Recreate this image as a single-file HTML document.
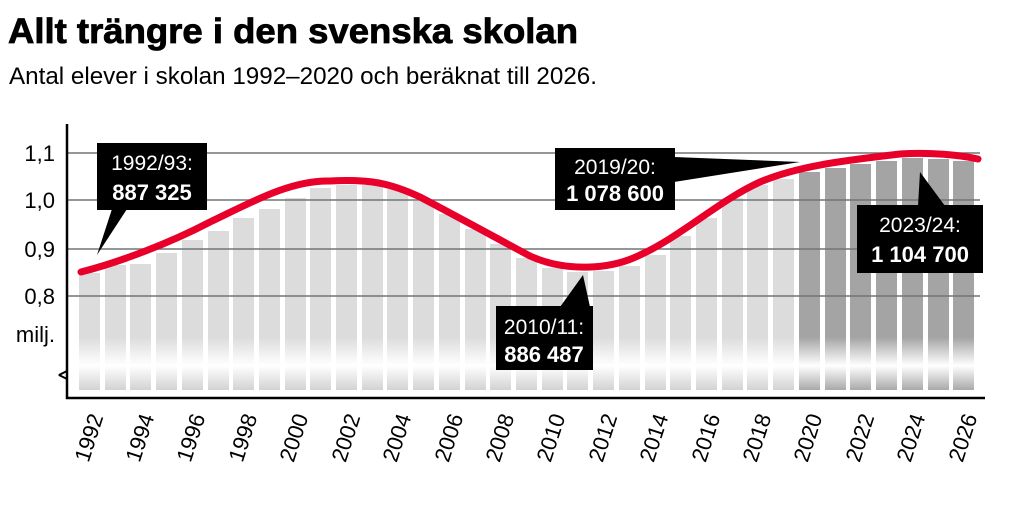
<!DOCTYPE html>
<html><head><meta charset="utf-8"><style>
body{margin:0;background:#fff;}
svg{display:block;}
.t{font-family:"Liberation Sans",sans-serif;}
</style></head><body>
<svg width="1021" height="515" viewBox="0 0 1021 515" xmlns="http://www.w3.org/2000/svg">
<defs>
<linearGradient id="gl" gradientUnits="userSpaceOnUse" x1="0" y1="0" x2="0" y2="515">
<stop offset="0" stop-color="#dcdcdc"/><stop offset="0.655" stop-color="#dcdcdc"/><stop offset="0.71" stop-color="#fff"/><stop offset="0.76" stop-color="#d0d0d0"/></linearGradient>
<linearGradient id="gd" gradientUnits="userSpaceOnUse" x1="0" y1="0" x2="0" y2="515">
<stop offset="0" stop-color="#a4a4a4"/><stop offset="0.655" stop-color="#a4a4a4"/><stop offset="0.71" stop-color="#fff"/><stop offset="0.76" stop-color="#a4a4a4"/></linearGradient>
</defs>
<text x="8" y="43" font-family="Liberation Sans,sans-serif" font-weight="bold" font-size="35" fill="#000" textLength="570" lengthAdjust="spacingAndGlyphs" stroke="#000" stroke-width="0.8">Allt trängre i den svenska skolan</text>
<text class="t" x="9" y="84" font-size="24" fill="#000" textLength="588" lengthAdjust="spacingAndGlyphs">Antal elever i skolan 1992–2020 och beräknat till 2026.</text>
<g>
<rect x="79" y="273" width="21" height="117" fill="url(#gl)"/>
<rect x="105" y="265" width="21" height="125" fill="url(#gl)"/>
<rect x="130" y="264" width="21" height="126" fill="url(#gl)"/>
<rect x="156" y="253" width="21" height="137" fill="url(#gl)"/>
<rect x="182" y="240" width="21" height="150" fill="url(#gl)"/>
<rect x="208" y="231" width="21" height="159" fill="url(#gl)"/>
<rect x="233" y="218" width="21" height="172" fill="url(#gl)"/>
<rect x="259" y="209" width="21" height="181" fill="url(#gl)"/>
<rect x="285" y="198" width="21" height="192" fill="url(#gl)"/>
<rect x="310" y="188" width="21" height="202" fill="url(#gl)"/>
<rect x="336" y="185" width="21" height="205" fill="url(#gl)"/>
<rect x="362" y="185" width="21" height="205" fill="url(#gl)"/>
<rect x="387" y="189" width="21" height="201" fill="url(#gl)"/>
<rect x="413" y="201" width="21" height="189" fill="url(#gl)"/>
<rect x="439" y="214" width="21" height="176" fill="url(#gl)"/>
<rect x="465" y="229" width="21" height="161" fill="url(#gl)"/>
<rect x="490" y="244" width="21" height="146" fill="url(#gl)"/>
<rect x="516" y="258" width="21" height="132" fill="url(#gl)"/>
<rect x="542" y="268" width="21" height="122" fill="url(#gl)"/>
<rect x="567" y="272" width="21" height="118" fill="url(#gl)"/>
<rect x="593" y="271" width="21" height="119" fill="url(#gl)"/>
<rect x="619" y="266" width="21" height="124" fill="url(#gl)"/>
<rect x="645" y="255" width="21" height="135" fill="url(#gl)"/>
<rect x="670" y="236" width="21" height="154" fill="url(#gl)"/>
<rect x="696" y="218" width="21" height="172" fill="url(#gl)"/>
<rect x="722" y="198" width="21" height="192" fill="url(#gl)"/>
<rect x="747" y="185" width="21" height="205" fill="url(#gl)"/>
<rect x="773" y="179" width="21" height="211" fill="url(#gl)"/>
<rect x="799" y="172" width="21" height="218" fill="url(#gd)"/>
<rect x="825" y="168" width="21" height="222" fill="url(#gd)"/>
<rect x="850" y="164" width="21" height="226" fill="url(#gd)"/>
<rect x="876" y="161" width="21" height="229" fill="url(#gd)"/>
<rect x="902" y="158" width="21" height="232" fill="url(#gd)"/>
<rect x="928" y="159" width="21" height="231" fill="url(#gd)"/>
<rect x="953" y="161" width="21" height="229" fill="url(#gd)"/>
</g>
<g stroke="#6e7676" stroke-width="1.5">
<line x1="67" y1="153" x2="980" y2="153"/><line x1="67" y1="200" x2="980" y2="200"/>
<line x1="67" y1="249" x2="980" y2="249"/><line x1="67" y1="296" x2="980" y2="296"/>
</g>
<path d="M67,124 V398 H985" fill="none" stroke="#000" stroke-width="2.5"/>
<path d="M67,371 l-8,4 l8,4" fill="none" stroke="#000" stroke-width="2" stroke-linejoin="bevel"/>
<g class="t" font-size="22" fill="#000" text-anchor="end">
<text x="55" y="161">1,1</text><text x="55" y="208">1,0</text><text x="55" y="257">0,9</text><text x="55" y="304">0,8</text><text x="55" y="342">milj.</text>
</g>
<path d="M81,272 C120,262 170,243 210,222 C250,203 290,180 330,181 C370,179 390,183 420,197 C460,218 500,240 530,256 C565,272 610,270 640,255 C680,237 720,200 760,182 C800,165 850,160 900,154 C930,152 960,155 978,159" fill="none" stroke="#e8002a" stroke-width="7" stroke-linecap="round"/>
<g fill="#000">
<rect x="97" y="143" width="110" height="67"/><path d="M112,209 L127,209 L97,255 Z"/>
<rect x="555" y="148" width="120" height="62"/><path d="M674,157 L800,162 L674,182 Z"/>
<rect x="496" y="306" width="97" height="64"/><path d="M560,307 L583,275 L590,307 Z"/>
<rect x="857" y="205" width="126" height="68"/><path d="M918,206 L920,172 L945,206 Z"/>
</g>
<g class="t" fill="#fff" font-size="21" text-anchor="middle">
<text x="152" y="170">1992/93:</text><text x="152" y="200" font-weight="bold" font-size="22">887 325</text>
<text x="615" y="174">2019/20:</text><text x="615" y="201" font-weight="bold" font-size="22">1 078 600</text>
<text x="544" y="334">2010/11:</text><text x="544" y="362" font-weight="bold" font-size="22">886 487</text>
<text x="920" y="232">2023/24:</text><text x="920" y="262" font-weight="bold" font-size="22">1 104 700</text>
</g>
<g class="t" font-size="22" fill="#000" text-anchor="middle">
<text transform="translate(96,440) rotate(-72)">1992</text>
<text transform="translate(147,440) rotate(-72)">1994</text>
<text transform="translate(198,440) rotate(-72)">1996</text>
<text transform="translate(250,440) rotate(-72)">1998</text>
<text transform="translate(301,440) rotate(-72)">2000</text>
<text transform="translate(353,440) rotate(-72)">2002</text>
<text transform="translate(404,440) rotate(-72)">2004</text>
<text transform="translate(456,440) rotate(-72)">2006</text>
<text transform="translate(507,440) rotate(-72)">2008</text>
<text transform="translate(558,440) rotate(-72)">2010</text>
<text transform="translate(610,440) rotate(-72)">2012</text>
<text transform="translate(661,440) rotate(-72)">2014</text>
<text transform="translate(713,440) rotate(-72)">2016</text>
<text transform="translate(764,440) rotate(-72)">2018</text>
<text transform="translate(815,440) rotate(-72)">2020</text>
<text transform="translate(867,440) rotate(-72)">2022</text>
<text transform="translate(918,440) rotate(-72)">2024</text>
<text transform="translate(970,440) rotate(-72)">2026</text>
</g>
</svg>
</body></html>
